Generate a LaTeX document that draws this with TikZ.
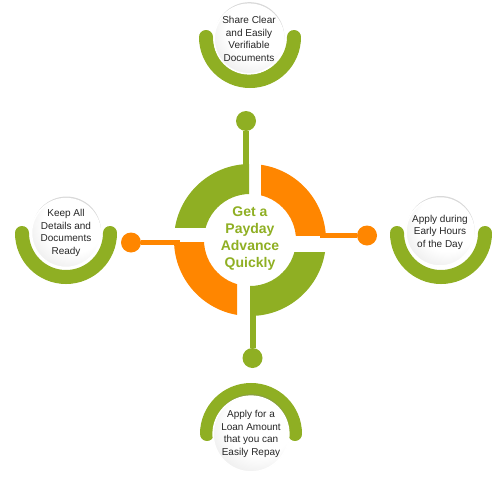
\documentclass[tikz,border=0pt]{standalone}
\usepackage{fontspec}
\setmainfont{Liberation Sans}
\usepackage{tikz}
\usetikzlibrary{shadows, calc}

\definecolor{leafgreen}{RGB}{143,175,35}
\definecolor{tangerine}{RGB}{255,134,0}
\pgfdeclareradialshading{bubble}{\pgfpoint{9bp}{12bp}}{color(0bp)=(white); color(22bp)=(white); color(42bp)=(black!12); color(62bp)=(black!26)}

\tikzset{
  tipnode/.style={circle, minimum size=68, inner sep=0, align=center, shade, shading=bubble,
    draw=white, line width=1.5,
    drop shadow={shadow xshift=0.5pt, shadow yshift=2pt, opacity=0.3},
    font=\fontsize{10}{12.5}\selectfont, text=black!85},
  cradle/.style={leafgreen, line width=14, line cap=round},
  knob/.style={circle, minimum size=20, inner sep=0},
  stem/.style={line width=6}
}

\begin{document}
\begin{tikzpicture}[x=1pt, y=-1pt]
  \useasboundingbox (0,0) rectangle (500,479);

  % Central ring, four cut quarters
  \foreach \col/\xa/\ya/\xb/\yb in {leafgreen/170/158/249/227, tangerine/261/158/330/235.5,
                                    leafgreen/250/252/330/322, tangerine/170/242/237/322}{
    \begin{scope}
      \clip (\xa,\ya) rectangle (\xb,\yb);
      \fill[\col, even odd rule] (250,240) circle[radius=76] (250,240) circle[radius=46];
    \end{scope}
  }
  \node[font=\fontsize{14}{17}\selectfont\bfseries, text=leafgreen, align=center] (hub) at (250,239)
    {Get a\\Payday\\Advance\\Quickly};

  % Stems and knobs
  \node[knob, fill=leafgreen] (knobtop) at (246,121) {};
  \node[knob, fill=tangerine] (knobright) at (367,235.5) {};
  \node[knob, fill=leafgreen] (knobbottom) at (252.5,358) {};
  \node[knob, fill=tangerine] (knobleft) at (131,242.5) {};
  \coordinate (roottop) at (246,175);
  \coordinate (rootright) at (320,235.5);
  \coordinate (rootbottom) at (252.5,305);
  \coordinate (rootleft) at (180,242.5);
  \draw[stem, leafgreen] (knobtop) -- (roottop);
  \draw[stem, tangerine, line width=5] (knobright) -- (rootright);
  \draw[stem, leafgreen] (knobbottom) -- (rootbottom);
  \draw[stem, tangerine, line width=5] (knobleft) -- (rootleft);

  % Outer tips
  \coordinate (cshare) at (250,37);
  \coordinate (capply) at (441,233);
  \coordinate (crepay) at (251,434);
  \coordinate (ckeep) at (66,233);
  \draw[cradle] ($(cshare)+(44,0)$) arc[start angle=0, end angle=180, radius=44];
  \draw[cradle] ($(capply)+(44,0)$) arc[start angle=0, end angle=180, radius=44];
  \draw[cradle] ($(ckeep)+(44,0)$) arc[start angle=0, end angle=180, radius=44];
  \draw[cradle] ($(crepay)+(-44,0)$) arc[start angle=180, end angle=360, radius=44];

  \node[tipnode] (share) at ($(cshare)+(-1,2)$) {Share Clear\\and Easily\\Verifiable\\Documents};
  \node[tipnode] (apply) at ($(capply)+(-1,-1)$) {Apply during\\Early Hours\\of the Day};
  \node[tipnode] (repay) at (crepay) {Apply for a\\Loan Amount\\that you can\\Easily Repay};
  \node[tipnode] (keep) at (ckeep) {Keep All\\Details and\\Documents\\Ready};
\end{tikzpicture}
\end{document}
